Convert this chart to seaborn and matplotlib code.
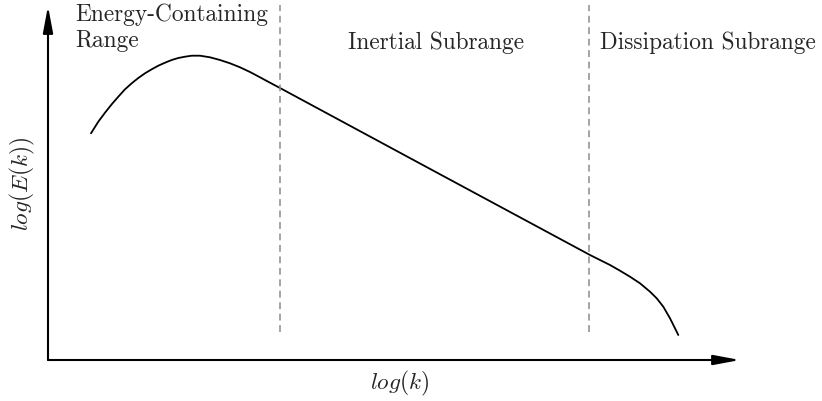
import matplotlib
matplotlib.use("Agg")
import matplotlib.pyplot as plt
from matplotlib.patches import ArrowStyle
import seaborn as sns
import pandas as pd

# Schematic turbulent energy spectrum (arbitrary log units)
log_k = [0.43, 0.503, 0.57, 0.637, 0.703, 0.77, 0.837, 0.903, 0.97, 1.037,
         1.103, 1.17, 1.237, 1.303, 1.37, 1.437, 1.52, 1.62, 1.72, 1.82,
         1.92, 2.02, 2.12, 2.22, 2.32, 3.72, 5.42, 5.52, 5.62, 5.72,
         5.82, 5.92, 6.02, 6.087, 6.153, 6.22, 6.27, 6.303]
log_E = [2.267, 2.383, 2.473, 2.557, 2.633, 2.707, 2.767, 2.82, 2.867, 2.907,
         2.943, 2.973, 3.0, 3.02, 3.033, 3.043, 3.043, 3.027, 3.0, 2.967,
         2.927, 2.88, 2.827, 2.773, 2.72, 1.965, 1.05, 1.0, 0.95, 0.893,
         0.833, 0.767, 0.683, 0.617, 0.533, 0.417, 0.317, 0.25]

# Boundaries between the spectral ranges
range_bounds = [2.32, 5.41]
bound_span = [0.28, 3.55]

range_labels = ["Energy-Containing\nRange", "Inertial Subrange", "Dissipation Subrange"]
x_label = r"$log(k)$"
y_label = r"$log(E(k))$"

sns.set_style("white")
plt.rcParams["font.family"] = ["cmr10", "DejaVu Serif"]
plt.rcParams["mathtext.fontset"] = "cm"
plt.rcParams["axes.formatter.use_mathtext"] = True

fig = plt.figure(figsize=(8.22, 4.01), dpi=100)
ax = fig.add_axes([0, 0, 1, 1])
ax.set_xlim(-0.48, 7.74)
ax.set_ylim(-0.41, 3.60)
ax.axis("off")

df = pd.DataFrame({"log_k": log_k, "log_E": log_E})
sns.lineplot(data=df, x="log_k", y="log_E", ax=ax, color="black", lw=1.3,
             sort=False, estimator=None)

for xb in range_bounds:
    ax.plot([xb, xb], bound_span, color="#8c8c8c", lw=1.1, ls=(0, (4.5, 3)))

# Axes drawn as arrows
head = ArrowStyle("-|>", head_length=1.6, head_width=0.3)
for tip in [(0, 3.54), (6.92, 0)]:
    ax.annotate("", xy=tip, xytext=(0, 0),
                arrowprops=dict(arrowstyle=head, mutation_scale=10, lw=1.5,
                                color="black", shrinkA=0, shrinkB=0))

fs = 16.8
ax.text(0.27, 3.57, range_labels[0], ha="left", va="top", fontsize=fs,
        linespacing=1.25)
ax.text(3.00, 3.17, range_labels[1], ha="left", va="center", fontsize=fs)
ax.text(5.52, 3.17, range_labels[2], ha="left", va="center", fontsize=fs)

ax.text(3.52, -0.23, x_label, ha="center", va="center", fontsize=fs)
ax.text(-0.26, 1.76, y_label, ha="center", va="center", rotation=90, fontsize=fs)

fig.savefig("out.png", dpi=100)
